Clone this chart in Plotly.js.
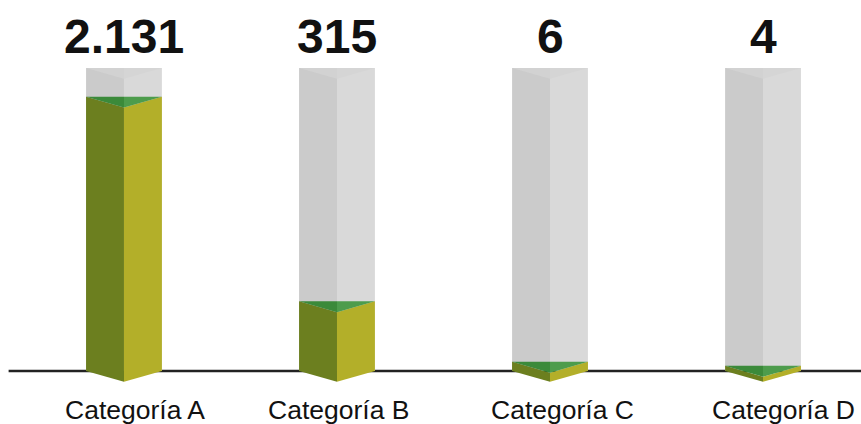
<!DOCTYPE html>
<html>
<head>
<meta charset="utf-8">
<script src="https://cdn.plot.ly/plotly-3.0.1.min.js"></script>
<style>html,body{margin:0;padding:0;background:#fff;}#chart{width:861px;height:424px;}</style>
</head>
<body>
<div id="chart"></div>
<script>
// ---- data ----
const categories = ['Categoría A', 'Categoría B', 'Categoría C', 'Categoría D'];
const values = [2131, 315, 6, 4];
// filled level of each glass column, in % of the column height
const fillPct = [90.5, 23, 3, 1.7];

// ---- style / geometry ----
const halfW = 0.178;   // half width of a column (x units)
const depth = 3.6;     // depth of the V-shaped top/bottom (y units)
const full = 100;      // column height
const labelShift = [0.05, 0.005, 0.06, 0.094]; // horizontal nudge of category labels (x units)

const fmt = v => String(v).replace(/\B(?=(\d{3})+(?!\d))/g, '.');

const traces = [];
function poly(xs, ys, color) {
  traces.push({
    type: 'scatter', mode: 'lines', x: xs.concat([xs[0]]), y: ys.concat([ys[0]]),
    fill: 'toself', fillcolor: color, line: {width: 0, color: color},
    hoverinfo: 'skip', showlegend: false
  });
}

categories.forEach((c, i) => {
  const x = i, l = x - halfW, r = x + halfW;
  // glass column
  poly([l, l, x, x], [0, full, full, 0], '#cbcbcb');
  poly([x, x, r, r], [0, full, full, 0], '#d9d9d9');
  poly([l, x, x], [full, full, full - depth], '#d2d2d2');
  poly([x, r, x], [full, full, full - depth], '#d5d5d5');
  // filled prism
  const f = fillPct[i];
  poly([l, l, x, x], [0, f, f - depth, -depth], '#6c7f1f');
  poly([x, x, r, r], [-depth, f - depth, f, 0], '#b3af29');
  poly([l, x, x], [f, f, f - depth], '#3b8a3a');
  poly([x, r, x], [f, f, f - depth], '#4d9c4c');
});

const annotations = [];
categories.forEach((c, i) => {
  annotations.push({
    x: i, y: 110.3, xref: 'x', yref: 'y', text: fmt(values[i]), showarrow: false,
    xanchor: 'center', yanchor: 'middle',
    font: {family: 'Arial, "Liberation Sans", sans-serif', size: 48, color: '#111', weight: 'bold'}
  });
  annotations.push({
    x: i + labelShift[i], y: -12.9, xref: 'x', yref: 'y', text: c, showarrow: false,
    xanchor: 'center', yanchor: 'middle',
    font: {family: 'Arial, "Liberation Sans", sans-serif', size: 26.5, color: '#111'}
  });
});

const layout = {
  width: 861, height: 424,
  margin: {l: 0, r: 0, t: 0, b: 0},
  paper_bgcolor: '#ffffff', plot_bgcolor: '#ffffff',
  xaxis: {range: [-0.582, 3.46], showgrid: false, zeroline: false, showticklabels: false, showline: false, ticks: '', fixedrange: true},
  yaxis: {range: [-17.5, 122.4], showgrid: false, zeroline: false, showticklabels: false, showline: false, ticks: '', fixedrange: true},
  shapes: [{
    type: 'line', layer: 'below', xref: 'paper', yref: 'y', x0: 0.01, x1: 1, y0: 0, y1: 0,
    line: {color: '#222222', width: 2.5}
  }],
  annotations: annotations,
  showlegend: false
};

Plotly.newPlot('chart', traces, layout, {displayModeBar: false, staticPlot: true});
</script>
</body>
</html>
